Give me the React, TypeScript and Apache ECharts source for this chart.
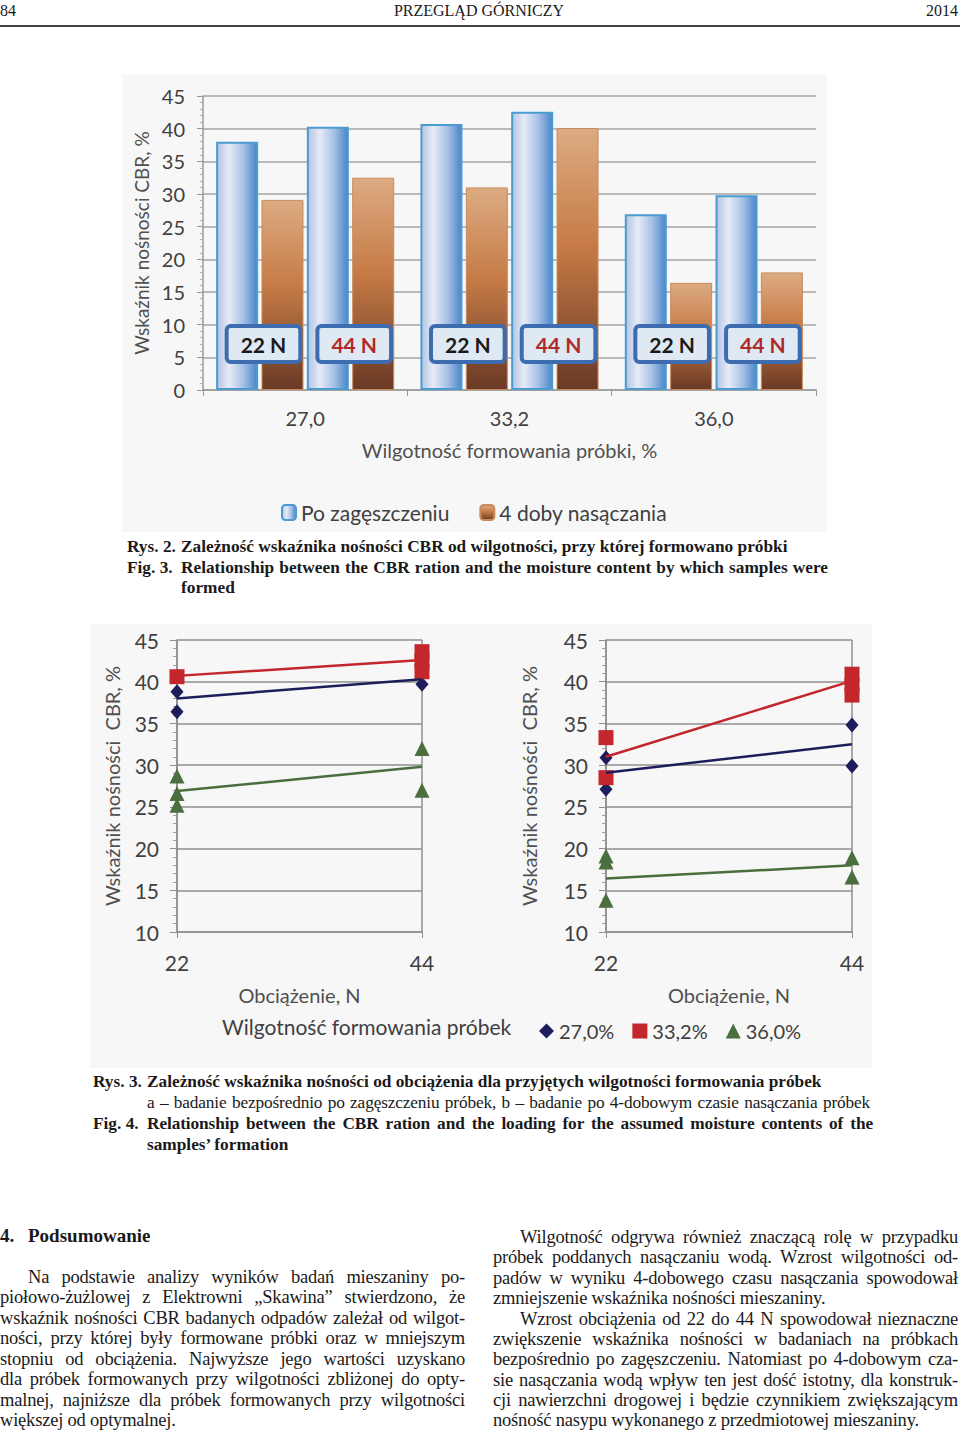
import React, { useEffect, useRef } from 'react';
import * as echarts from 'echarts';

// ---------- Bar chart data (Rys. 2) ----------
const moistureLabels = ['27,0', '33,2', '36,0'];
const compacted22 = [38.0, 40.7, 26.9];
const soaked22 = [29.1, 31.0, 16.4];
const compacted44 = [40.3, 42.6, 29.8];
const soaked44 = [32.5, 40.1, 18.0];
const loadLabels = ['22 N', '44 N'];
const barLegend = ['Po zagęszczeniu', '4 doby nasączania'];

// ---------- Line chart data (Rys. 3) ----------
const loads = [22, 44];
const moistureNames = ['27,0%', '33,2%', '36,0%'];
// a – directly after compaction
const samplesA27 = [[22, 38.8], [22, 36.4], [44, 40.9], [44, 39.7]];
const samplesA33 = [[22, 40.6], [44, 43.6], [44, 42.5], [44, 41.2]];
const samplesA36 = [[22, 28.7], [22, 26.6], [22, 25.2], [44, 32.0], [44, 27.0]];
// b – after 4 days of soaking
const samplesB27 = [[22, 30.9], [22, 27.1], [44, 34.8], [44, 29.9]];
const samplesB33 = [[22, 33.3], [22, 28.5], [44, 40.9], [44, 39.6], [44, 38.4]];
const samplesB36 = [[22, 19.1], [22, 18.4], [22, 13.8], [44, 18.9], [44, 16.6]];

const FONT = 'Lato, "Noto Sans", sans-serif';
const SERIF = '"Liberation Serif", "Times New Roman", serif';

const markerColors = ['#1d1d5c', '#c3262b', '#4b6e3e'];
const markerSymbols = ['diamond', 'rect', 'triangle'];
const markerSizes = [[13, 15], 15, 15];

function buildOption() {
  const blueGrad = new echarts.graphic.LinearGradient(0, 0, 1, 0, [
    { offset: 0, color: '#b4c4e3' },
    { offset: 0.3, color: '#e6ebf6' },
    { offset: 0.65, color: '#a8c1e6' },
    { offset: 1, color: '#4a86c8' },
  ]);
  const brownGrad = new echarts.graphic.LinearGradient(0, 0, 0, 1, [
    { offset: 0, color: '#dcab82' },
    { offset: 0.45, color: '#c67b46' },
    { offset: 1, color: '#6a3925' },
  ]);

  const boxLabel = (text: string, color: string) => ({
    show: true,
    position: 'insideBottom',
    distance: 30,
    offset: [-19, 0],
    formatter: text,
    color,
    fontSize: 21,
    fontWeight: 'bold',
    fontFamily: FONT,
    backgroundColor: '#dfe9f3',
    borderColor: '#3d6db0',
    borderWidth: 4,
    borderRadius: 2,
    padding: [5, 12],
    lineHeight: 22,
  });

  const blueStyle = { color: blueGrad, borderColor: '#4b9bd1', borderWidth: 2 };
  const brownStyle = { color: brownGrad, borderColor: '#c98a5c', borderWidth: 1 };

  const lineYAxis = (gridIndex: number, nameGap: number) => ({
    gridIndex,
    type: 'value',
    min: 10,
    max: 45,
    interval: 5,
    name: 'Wskaźnik nośności  CBR, %',
    nameLocation: 'middle',
    nameGap,
    nameTextStyle: { fontSize: 20, color: '#505050', fontFamily: FONT },
    axisLine: { show: true, lineStyle: { color: '#8f8f8f', width: 1.5 } },
    axisTick: { show: true, length: 7, lineStyle: { color: '#8f8f8f' } },
    minorTick: { show: true, splitNumber: 5, length: 4, lineStyle: { color: '#a0a0a0' } },
    axisLabel: { fontSize: 21, color: '#404040', margin: 18, fontFamily: FONT },
    splitLine: { show: true, lineStyle: { color: '#8f8f8f', width: 1.5 } },
  });
  const lineXAxis = (gridIndex: number) => ({
    gridIndex,
    type: 'value',
    min: loads[0],
    max: loads[1],
    interval: loads[1] - loads[0],
    name: 'Obciążenie, N',
    nameLocation: 'middle',
    nameGap: 53,
    nameTextStyle: { fontSize: 20, color: '#505050', fontFamily: FONT },
    axisLine: { show: true, lineStyle: { color: '#8f8f8f', width: 1.5 } },
    axisTick: { show: true, length: 6, lineStyle: { color: '#8f8f8f' } },
    axisLabel: { fontSize: 21, color: '#404040', margin: 20, fontFamily: FONT },
    splitLine: { show: true, lineStyle: { color: '#8f8f8f', width: 1.5 } },
  });

  const scatter = (name: string, idx: number, axis: number, data: number[][]) => ({
    type: 'scatter',
    name,
    xAxisIndex: axis,
    yAxisIndex: axis,
    symbol: markerSymbols[idx],
    symbolSize: markerSizes[idx],
    itemStyle: { color: markerColors[idx], opacity: 1 },
    data,
    z: 3,
  });
  const trend = (idx: number, axis: number, v22: number[], v44: number[]) => ({
    type: 'line',
    name: 'Trend ' + moistureNames[idx] + (axis === 1 ? ' a' : ' b'),
    xAxisIndex: axis,
    yAxisIndex: axis,
    showSymbol: false,
    symbol: 'none',
    lineStyle: { color: markerColors[idx], width: 2.5 },
    data: [[loads[0], v22[idx]], [loads[1], v44[idx]]],
    z: 4,
  });

  return {
    animation: false,
    backgroundColor: 'transparent',
    textStyle: { fontFamily: FONT },
    graphic: [
      { type: 'rect', z: -10, shape: { x: 122, y: 74, width: 705, height: 458 }, style: { fill: '#f7f7f7' } },
      { type: 'rect', z: -10, shape: { x: 90, y: 624, width: 782, height: 444 }, style: { fill: '#f7f7f7' } },
      {
        type: 'text',
        left: 222,
        top: 1016,
        style: { text: 'Wilgotność formowania próbek', fontSize: 21, fill: '#404040', fontFamily: FONT },
      },
    ],
    legend: [
      {
        data: barLegend,
        left: 276,
        top: 497,
        itemWidth: 14,
        itemHeight: 15,
        itemGap: 30,
        textStyle: { fontSize: 21, color: '#404040', fontFamily: FONT },
      },
      {
        data: moistureNames.map((n, i) => ({ name: n, icon: markerSymbols[i] })),
        left: 534,
        top: 1016,
        itemWidth: 15,
        itemHeight: 15,
        itemGap: 18,
        textStyle: { fontSize: 20, color: '#404040', fontFamily: FONT },
      },
    ],
    grid: [
      { left: 203, top: 96, width: 613, height: 294 },
      { left: 177, top: 640, width: 245, height: 292 },
      { left: 606, top: 640, width: 246, height: 292 },
    ],
    xAxis: [
      {
        gridIndex: 0,
        type: 'category',
        data: moistureLabels,
        name: 'Wilgotność formowania próbki, %',
        nameLocation: 'middle',
        nameGap: 50,
        nameTextStyle: { fontSize: 20, color: '#505050', fontFamily: FONT },
        axisLine: { show: true, lineStyle: { color: '#9a9a9a', width: 1.5 } },
        axisTick: { show: true, length: 6, lineStyle: { color: '#9a9a9a' } },
        axisLabel: { fontSize: 20, color: '#404040', margin: 18, fontFamily: FONT },
      },
      lineXAxis(1),
      lineXAxis(2),
    ],
    yAxis: [
      {
        gridIndex: 0,
        type: 'value',
        min: 0,
        max: 45,
        interval: 5,
        name: 'Wskaźnik nośności CBR, %',
        nameLocation: 'middle',
        nameGap: 50,
        nameTextStyle: { fontSize: 19, color: '#505050', fontFamily: FONT },
        axisLine: { show: true, lineStyle: { color: '#9a9a9a', width: 1.5 } },
        axisTick: { show: true, length: 6, lineStyle: { color: '#9a9a9a' } },
        minorTick: { show: true, splitNumber: 5, length: 3, lineStyle: { color: '#b0b0b0' } },
        axisLabel: { fontSize: 20, color: '#404040', margin: 18, fontFamily: FONT },
        splitLine: { show: true, lineStyle: { color: '#a6a6a6', width: 1.5 } },
      },
      lineYAxis(1, 55),
      lineYAxis(2, 67),
    ],
    series: [
      { type: 'bar', name: barLegend[0], xAxisIndex: 0, yAxisIndex: 0, data: compacted22, barWidth: 42, barGap: '8%', itemStyle: blueStyle },
      { type: 'bar', name: barLegend[1], xAxisIndex: 0, yAxisIndex: 0, data: soaked22, barWidth: 42, barGap: '8%', itemStyle: brownStyle, label: boxLabel(loadLabels[0], '#1a1a1a'), z: 3 },
      { type: 'bar', name: barLegend[0], xAxisIndex: 0, yAxisIndex: 0, data: compacted44, barWidth: 42, barGap: '8%', itemStyle: blueStyle },
      { type: 'bar', name: barLegend[1], xAxisIndex: 0, yAxisIndex: 0, data: soaked44, barWidth: 42, barGap: '8%', itemStyle: brownStyle, label: boxLabel(loadLabels[1], '#b12a2a'), z: 3 },
      scatter(moistureNames[0], 0, 1, samplesA27),
      scatter(moistureNames[1], 1, 1, samplesA33),
      scatter(moistureNames[2], 2, 1, samplesA36),
      scatter(moistureNames[0], 0, 2, samplesB27),
      scatter(moistureNames[1], 1, 2, samplesB33),
      scatter(moistureNames[2], 2, 2, samplesB36),
      trend(0, 1, compacted22, compacted44),
      trend(1, 1, compacted22, compacted44),
      trend(2, 1, compacted22, compacted44),
      trend(0, 2, soaked22, soaked44),
      trend(1, 2, soaked22, soaked44),
      trend(2, 2, soaked22, soaked44),
    ],
  };
}

// ---------- Text content ----------
const leftParagraph = [
  'Na podstawie analizy wyników badań mieszaniny po-',
  'piołowo-żużlowej z Elektrowni „Skawina” stwierdzono, że',
  'wskaźnik nośności CBR badanych odpadów zależał od wilgot-',
  'ności, przy której były formowane próbki oraz w mniejszym',
  'stopniu od obciążenia. Najwyższe jego wartości uzyskano',
  'dla próbek formowanych przy wilgotności zbliżonej do opty-',
  'malnej, najniższe dla próbek formowanych przy wilgotności',
  'większej od optymalnej.',
];
const rightParagraph = [
  'Wilgotność odgrywa również znaczącą rolę w przypadku',
  'próbek poddanych nasączaniu wodą. Wzrost wilgotności od-',
  'padów w wyniku 4-dobowego czasu nasączania spowodował',
  'zmniejszenie wskaźnika nośności mieszaniny.',
  'Wzrost obciążenia od 22 do 44 N spowodował nieznaczne',
  'zwiększenie wskaźnika nośności w badaniach na próbkach',
  'bezpośrednio po zagęszczeniu. Natomiast po 4-dobowym cza-',
  'sie nasączania wodą wpływ ten jest dość istotny, dla konstruk-',
  'cji nawierzchni drogowej i będzie czynnikiem zwiększającym',
  'nośność nasypu wykonanego z przedmiotowej mieszaniny.',
];
const leftIndent = [0];
const rightIndent = [0, 4];
const leftLast = [7];
const rightLast = [3, 9];

function TLine(props: any) {
  const { x, y, w, text, bold, size, justify, ls } = props;
  return (
    <div
      style={{
        position: 'absolute',
        left: x,
        top: y - 10,
        width: w,
        height: 20,
        lineHeight: '20px',
        fontSize: size || 18.5,
        fontFamily: SERIF,
        fontWeight: bold ? 'bold' : 'normal',
        letterSpacing: ls || 0,
        textAlign: justify ? 'justify' : 'left',
        textAlignLast: justify ? 'justify' : 'left',
        color: '#1a1a1a',
        whiteSpace: 'nowrap',
      } as any}
    >
      {text}
    </div>
  );
}

export default function App() {
  const ref = useRef<HTMLDivElement>(null);
  useEffect(() => {
    if (!ref.current) return;
    const chart = echarts.init(ref.current, undefined, { renderer: 'svg' });
    chart.setOption(buildOption() as any);
    return () => chart.dispose();
  }, []);

  return (
    <div style={{ position: 'absolute', left: 0, top: 0, width: 960, height: 1434, background: '#ffffff', overflow: 'hidden' }}>
      <div ref={ref} style={{ position: 'absolute', left: 0, top: 0, width: 960, height: 1434 }} />
      <div style={{ position: 'absolute', left: 0, top: 0, width: 960, height: 1434, pointerEvents: 'none' }}>
        {/* header */}
        <TLine x={0} y={11} w={40} text="84" size={16} />
        <div style={{ position: 'absolute', left: 0, top: 1, width: 958, textAlign: 'center', fontFamily: SERIF, fontSize: 16, lineHeight: '20px', color: '#1a1a1a' }}>PRZEGLĄD GÓRNICZY</div>
        <div style={{ position: 'absolute', right: 2, top: 1, fontFamily: SERIF, fontSize: 16, lineHeight: '20px', color: '#1a1a1a' }}>2014</div>
        <div style={{ position: 'absolute', left: 0, top: 25, width: 960, height: 2, background: '#444' }} />

        {/* caption Rys. 2 */}
        <TLine x={127} y={547} w={54} text="Rys. 2." bold size={17.3} />
        <TLine x={181} y={547} w={640} text="Zależność wskaźnika nośności CBR od wilgotności, przy której formowano próbki" bold size={17.3} />
        <TLine x={127} y={568} w={54} text="Fig. 3." bold size={17.3} />
        <TLine x={181} y={568} w={647} text="Relationship between the CBR ration and the moisture content by which samples were" bold size={17.3} justify />
        <TLine x={181} y={588} w={200} text="formed" bold size={17.3} />

        {/* caption Rys. 3 */}
        <TLine x={93} y={1082} w={54} text="Rys. 3." bold size={17.3} />
        <TLine x={147} y={1082} w={700} text="Zależność wskaźnika nośności od obciążenia dla przyjętych wilgotności formowania próbek" bold size={17.3} />
        <TLine x={147} y={1103} w={723} text="a – badanie bezpośrednio po zagęszczeniu próbek, b – badanie po 4-dobowym czasie nasączania próbek" size={17.3} ls={-0.15} justify />
        <TLine x={93} y={1124} w={54} text="Fig. 4." bold size={17.3} />
        <TLine x={147} y={1124} w={726} text="Relationship between the CBR ration and the loading for the assumed moisture contents of the" bold size={17.3} ls={-0.1} justify />
        <TLine x={147} y={1145} w={300} text="samples’ formation" bold size={17.3} />

        {/* section */}
        <TLine x={0} y={1236} w={28} text="4." bold size={19} />
        <TLine x={28} y={1236} w={300} text="Podsumowanie" bold size={19} />
        {leftParagraph.map((t, i) => {
          const ind = leftIndent.includes(i) ? 28 : 0;
          return <TLine key={'l' + i} x={ind} y={1277 + i * 20.43} w={465 - ind} text={t} ls={-0.2} justify={!leftLast.includes(i)} />;
        })}
        {rightParagraph.map((t, i) => {
          const ind = rightIndent.includes(i) ? 27 : 0;
          return <TLine key={'r' + i} x={493 + ind} y={1237 + i * 20.38} w={465 - ind} text={t} ls={-0.2} justify={!rightLast.includes(i)} />;
        })}
      </div>
    </div>
  );
}
